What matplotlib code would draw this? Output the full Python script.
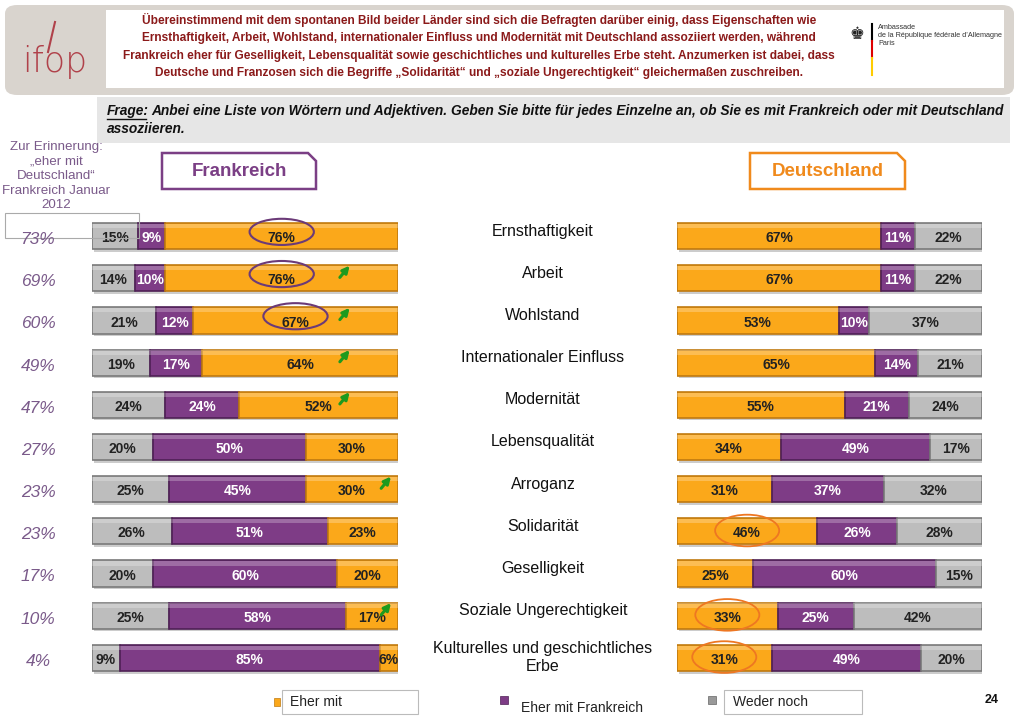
import numpy as np
import matplotlib
matplotlib.use("Agg")
from matplotlib import pyplot as plt
from matplotlib.patches import Rectangle, FancyBboxPatch, Polygon, Ellipse
from matplotlib.transforms import blended_transform_factory

plt.rcParams['font.family'] = ['Liberation Sans', 'DejaVu Sans']

# data
items = ["Ernsthaftigkeit", "Arbeit", "Wohlstand", "Internationaler Einfluss", "Modernität",
         "Lebensqualität", "Arroganz", "Solidarität", "Geselligkeit",
         "Soziale Ungerechtigkeit", "Kulturelles und geschichtliches\nErbe"]
reminder = [73, 69, 60, 49, 47, 27, 23, 23, 17, 10, 4]

# Frankreich: weder noch / eher mit Frankreich / eher mit Deutschland
fr_weder = [15, 14, 21, 19, 24, 20, 25, 26, 20, 25, 9]
fr_fr = [9, 10, 12, 17, 24, 50, 45, 51, 60, 58, 85]
fr_de = [76, 76, 67, 64, 52, 30, 30, 23, 20, 17, 6]
fr_arrow = [False, True, True, True, True, False, True, False, False, True, False]
fr_circle = [True, True, True, False, False, False, False, False, False, False, False]

# Deutschland: eher mit Deutschland / eher mit Frankreich / weder noch
de_de = [67, 67, 53, 65, 55, 34, 31, 46, 25, 33, 31]
de_fr = [11, 11, 10, 14, 21, 49, 37, 26, 60, 25, 49]
de_weder = [22, 22, 37, 21, 24, 17, 32, 28, 15, 42, 20]
de_circle = [False, False, False, False, False, False, False, True, False, True, True]

ORANGE = "#FBA81A"
ORANGE_E = "#C07A10"
PURPLE = "#7E3C86"
PURPLE_E = "#4E2055"
GREY = "#BDBDBD"
GREY_E = "#7A7A7A"
DARKRED = "#8B1A1A"
REMCOL = "#7A5A8A"

W, H = 1023, 720
fig = plt.figure(figsize=(W / 100, H / 100), dpi=100)


def fx(x):
    return x / W


def fy(y):
    return 1 - y / H


def add_ax(x0, x1, y0, y1):
    ax = fig.add_axes([fx(x0), fy(y1), fx(x1) - fx(x0), (y1 - y0) / H])
    ax.set_xlim(0, 100)
    ax.set_ylim(len(items) - 0.5, -0.5)
    ax.axis("off")
    return ax


ax_l = add_ax(92, 398, 215, 679)
ax_r = add_ax(677, 982, 215, 679)
pos = np.arange(len(items))
bh = 0.62


def draw_segment(ax, left, width, color, edge, txtcol):
    # shadow, body, highlight
    ax.barh(pos + 0.06, width, left=left + 0.5, height=bh, color="#9A9A9A", alpha=0.5, zorder=1)
    ax.barh(pos, width, left=left, height=bh, color=color, edgecolor=edge, linewidth=1.2, zorder=2)
    ax.barh(pos - bh / 2 + 0.07, width, left=left, height=0.1, color="white", alpha=0.25,
            linewidth=0, zorder=3)
    for i in range(len(items)):
        ax.text(left[i] + width[i] / 2, pos[i] + 0.05, f"{width[i]}%", ha="center", va="center",
                fontsize=10, fontweight="bold", color=txtcol, zorder=4)


lw = np.array(fr_weder)
lf = np.array(fr_fr)
ld = np.array(fr_de)
draw_segment(ax_l, np.zeros(len(items)), lw, GREY, GREY_E, "#222222")
draw_segment(ax_l, lw, lf, PURPLE, PURPLE_E, "white")
draw_segment(ax_l, lw + lf, ld, ORANGE, ORANGE_E, "#222222")

rd = np.array(de_de)
rf = np.array(de_fr)
rw = np.array(de_weder)
draw_segment(ax_r, np.zeros(len(items)), rd, ORANGE, ORANGE_E, "#222222")
draw_segment(ax_r, rd, rf, PURPLE, PURPLE_E, "white")
draw_segment(ax_r, rd + rf, rw, GREY, GREY_E, "#222222")

# circles and arrows
for i in range(len(items)):
    center = lw[i] + lf[i] + ld[i] / 2
    end = lw[i] + lf[i] + ld[i]
    if fr_circle[i]:
        ax_l.add_patch(Ellipse((center, pos[i] - 0.1), 21, 0.62, fill=False, edgecolor="#6B3A78",
                               linewidth=1.5, zorder=5))
    if fr_arrow[i]:
        x_a = 81 if center + 8 <= 82 else end - 5.5
        ax_l.annotate("", xy=(x_a + 3.2, pos[i] - 0.3), xytext=(x_a, pos[i] - 0.02),
                      arrowprops=dict(arrowstyle="-|>", color="#1E9A1E", lw=2.2,
                                      mutation_scale=10, shrinkA=0, shrinkB=0),
                      zorder=6)
    if de_circle[i]:
        ax_r.add_patch(Ellipse((rd[i] / 2, pos[i] - 0.02), 21, 0.75, fill=False,
                               edgecolor="#EE7722", linewidth=1.3, zorder=5))

# middle item labels and reminder values
tr_mid = blended_transform_factory(fig.transFigure, ax_l.transData)
for i, lab in enumerate(items):
    yy = pos[i] - 0.12 if "\n" not in lab else pos[i]
    fig.text(fx(543), yy, lab, transform=tr_mid, ha="center", va="center", fontsize=11.5,
             linespacing=1.25, color="#111111")
    fig.text(fx(38), pos[i] + 0.08, f"{reminder[i]}%", transform=tr_mid, ha="center",
             va="center", fontsize=12.5, style="italic", color=REMCOL)

# header frame
fig.patches.append(FancyBboxPatch((fx(5), fy(95)), fx(1014) - fx(5), fy(5) - fy(95),
                                  boxstyle="round,pad=0,rounding_size=0.012",
                                  transform=fig.transFigure, facecolor="#D9D4CE",
                                  edgecolor="none", zorder=0))
fig.patches.append(Rectangle((fx(106), fy(88)), fx(1004) - fx(106), fy(10) - fy(88),
                             transform=fig.transFigure, facecolor="white", edgecolor="none",
                             zorder=1))
fig.text(fx(55), fy(62), "ifop", ha="center", va="center", fontsize=25, color="#B0414A",
         family=['DejaVu Sans'], fontweight="light")
fig.add_artist(plt.Line2D([fx(48), fx(55)], [fy(52), fy(22)], color="#B0414A", lw=1.5,
                          transform=fig.transFigure))

header = ("Übereinstimmend mit dem spontanen Bild beider Länder sind sich die Befragten darüber einig, dass Eigenschaften wie\n"
          "Ernsthaftigkeit, Arbeit, Wohlstand, internationaler Einfluss und Modernität mit Deutschland assoziiert werden, während\n"
          "Frankreich eher für Geselligkeit, Lebensqualität sowie geschichtliches und kulturelles Erbe steht. Anzumerken ist dabei, dass\n"
          "Deutsche und Franzosen sich die Begriffe „Solidarität“ und „soziale Ungerechtigkeit“ gleichermaßen zuschreiben.")
fig.text(fx(479), fy(46), header, ha="center", va="center", fontsize=8.6, fontweight="bold",
         color=DARKRED, linespacing=1.6, zorder=3)

# embassy logo
fig.text(fx(857), fy(34), "♚", ha="center", va="center", fontsize=12, color="#222222", zorder=3,
         family=['DejaVu Sans'])
for k, c in enumerate(["#000000", "#DD0000", "#FFCC00"]):
    fig.add_artist(plt.Line2D([fx(872), fx(872)], [fy(24 + k * 17), fy(41 + k * 17)], color=c,
                              lw=1.5, transform=fig.transFigure, zorder=3))
fig.text(fx(878), fy(24), "Ambassade\nde la République fédérale d’Allemagne\nParis", ha="left",
         va="top", fontsize=5.2, color="#333333", linespacing=1.2, zorder=3)

# question box
fig.patches.append(Rectangle((fx(97), fy(143)), fx(1010) - fx(97), fy(97) - fy(143),
                             transform=fig.transFigure, facecolor="#E6E6E6", edgecolor="none",
                             zorder=0))
qkw = dict(ha="left", va="center", fontsize=9.9, fontweight="bold", style="italic",
           color="#111111")
fig.text(fx(107), fy(111), "Frage:", **qkw)
fig.add_artist(plt.Line2D([fx(107), fx(146)], [fy(119), fy(119)], color="#111111", lw=1,
                          transform=fig.transFigure))
fig.text(fx(151), fy(111),
         "Anbei eine Liste von Wörtern und Adjektiven. Geben Sie bitte für jedes Einzelne an, ob Sie es mit Frankreich oder mit Deutschland",
         **qkw)
fig.text(fx(107), fy(129), "assoziieren.", **qkw)

# reminder heading
fig.text(fx(56), fy(176), "Zur Erinnerung:\n„eher mit\nDeutschland“\nFrankreich Januar\n2012",
         ha="center", va="center", fontsize=9.6, color=REMCOL, linespacing=1.3)
fig.patches.append(Rectangle((fx(5), fy(238)), fx(139) - fx(5), fy(213) - fy(238),
                             transform=fig.transFigure, facecolor="none", edgecolor="#AAAAAA",
                             lw=0.8, zorder=0))


# country boxes
def country_box(x0, x1, y0, y1, label, col):
    c = 8
    pts = [(x0, y0), (x1 - c, y0), (x1, y0 + c), (x1, y1), (x0, y1)]
    fig.patches.append(Polygon([(fx(a), fy(b)) for a, b in pts], closed=True,
                               transform=fig.transFigure, facecolor="white", edgecolor=col,
                               lw=1.8))
    fig.text(fx((x0 + x1) / 2), fy((y0 + y1) / 2), label, ha="center", va="center",
             fontsize=13.5, fontweight="bold", color=col)


country_box(162, 316, 153, 189, "Frankreich", "#7B3F85")
country_box(750, 905, 153, 189, "Deutschland", "#F08A1C")

# legend
fig.patches.append(Rectangle((fx(274), fy(706)), fx(280) - fx(274), fy(698) - fy(706),
                             transform=fig.transFigure, facecolor=ORANGE, edgecolor=ORANGE_E,
                             lw=0.5))
fig.patches.append(Rectangle((fx(282), fy(714)), fx(418) - fx(282), fy(690) - fy(714),
                             transform=fig.transFigure, facecolor="white", edgecolor="#BBBBBB",
                             lw=0.8))
fig.text(fx(290), fy(702), "Eher mit", ha="left", va="center", fontsize=10, color="#222222")
fig.patches.append(Rectangle((fx(500), fy(704)), fx(508) - fx(500), fy(696) - fy(704),
                             transform=fig.transFigure, facecolor=PURPLE, edgecolor=PURPLE_E,
                             lw=0.5))
fig.text(fx(521), fy(708), "Eher mit Frankreich", ha="left", va="center", fontsize=10,
         color="#222222")
fig.patches.append(Rectangle((fx(708), fy(704)), fx(716) - fx(708), fy(696) - fy(704),
                             transform=fig.transFigure, facecolor="#999999", edgecolor="#666666",
                             lw=0.5))
fig.patches.append(Rectangle((fx(724), fy(714)), fx(862) - fx(724), fy(690) - fy(714),
                             transform=fig.transFigure, facecolor="white", edgecolor="#BBBBBB",
                             lw=0.8))
fig.text(fx(733), fy(702), "Weder noch", ha="left", va="center", fontsize=10, color="#222222")
fig.text(fx(992), fy(700), "24", ha="center", va="center", fontsize=9, fontweight="bold",
         color="#111111")

plt.savefig("out.png", dpi=100)
